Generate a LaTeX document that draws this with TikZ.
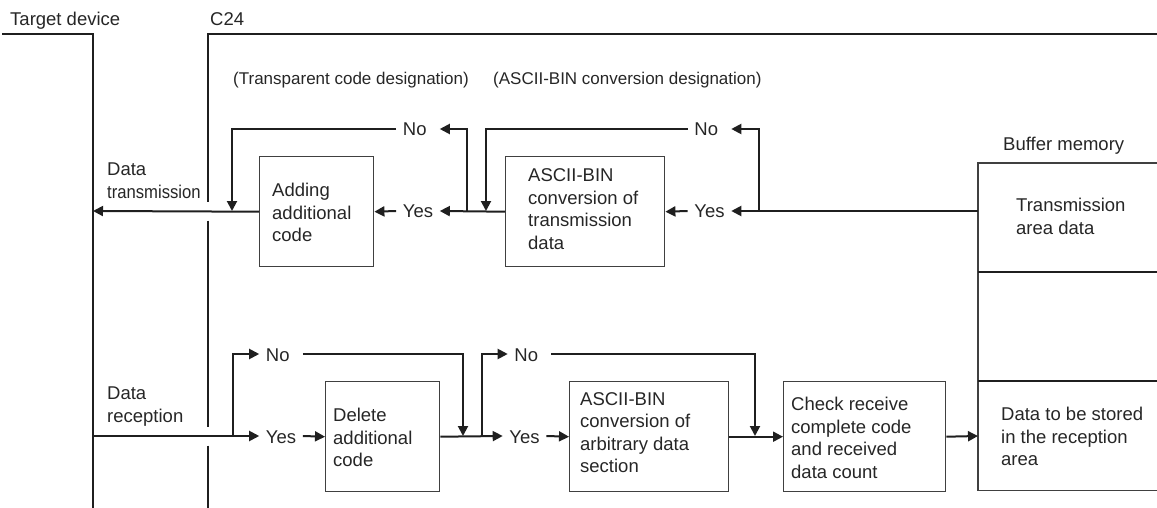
\documentclass[tikz,border=0pt]{standalone}
\usepackage{fontspec}
\setmainfont{Liberation Sans}
\usetikzlibrary{arrows.meta}
\begin{document}
\begin{tikzpicture}[x=1pt,y=-1pt,
  ln/.style={line width=2pt, draw=black!88},
  arr/.style={ln, -{Triangle[length=10pt,width=10pt]}},
  box/.style={draw=black!75, line width=1.4pt, rectangle, inner sep=0pt, anchor=north west},
  txt/.style={anchor=base west, inner sep=0pt, align=left, font=\fontsize{18.5}{22.5}\selectfont, text=black!85},
  small/.style={anchor=base west, inner sep=0pt, font=\fontsize{17}{20}\selectfont, text=black!85},
  lbl/.style={inner xsep=6.5pt, inner ysep=0pt, text height=14pt, text depth=0pt, font=\fontsize{18.5}{22}\selectfont, text=black!85},
]
\useasboundingbox (0,0) rectangle (1157,508);

% headers
\node[txt] (tdev) at (10,26) {Target device};
\node[txt] (c24) at (210,26) {C24};
\draw[ln] (2,34) -- (93,34) -- (93,508);
\draw[ln] (1157,34) -- (208,34) -- (208,201.5);
\draw[ln] (208,220.5) -- (208,427);
\draw[ln] (208,445.5) -- (208,508);

\node[small] (tcd) at (233,85) {(Transparent code designation)};
\node[small] (abd) at (493,85) {(ASCII-BIN conversion designation)};

% multi-line texts: anchor is the baseline of the last line
\node[txt, font=\fontsize{18.5}{23}\selectfont] (dtx) at (107,198) {Data\\\scalebox{0.9}[1]{transmission}};
\node[txt, font=\fontsize{18.5}{23}\selectfont] (drx) at (107,422) {Data\\reception};

% buffer memory
\node[txt] (bm) at (1003,150) {Buffer memory};
\draw[draw=black!75, line width=1.4pt] (1157,163) -- (978,163) -- (978,490.5) -- (1157,490.5);
\draw[ln] (978,272) -- (1157,272);
\draw[ln] (978,380.5) -- (1157,380.5);
\node[txt] (tad) at (1016,234.2) {Transmission\\area data};
\node[txt] (dsr) at (1001,465.7) {Data to be stored\\in the reception\\area};
\coordinate (btx) at (978,211);
\coordinate (brx) at (978,436);

% transmission boxes
\node[box, minimum width=114pt, minimum height=110pt] (add) at (259,156) {};
\node[txt] (addt) at (272,241.7) {Adding\\additional\\code};
\node[box, minimum width=159pt, minimum height=110pt] (asct) at (505,156) {};
\node[txt] (asctt) at (528,249) {ASCII-BIN\\conversion of\\transmission\\data};

% reception boxes
\node[box, minimum width=114pt, minimum height=110pt] (del) at (325,381) {};
\node[txt] (delt) at (333,466.5) {Delete\\additional\\code};
\node[box, minimum width=159pt, minimum height=110pt] (ascr) at (569,381) {};
\node[txt] (ascrt) at (580,472.5) {ASCII-BIN\\conversion of\\arbitrary data\\section};
\node[box, minimum width=162pt, minimum height=110pt] (chk) at (783,381) {};
\node[txt] (chkt) at (791,478) {Check receive\\complete code\\and received\\data count};

% transmission flow
\node[lbl] (y1) at (709.5,211) {Yes};
\node[lbl] (n1) at (709.5,129) {\rlap{No}\phantom{Yes}};
\coordinate (j1) at (759,211);
\coordinate (k1) at (486,211);
\draw[arr] (btx) -- (y1.east);
\draw[arr] (y1.west) -- (asct.east);
\draw[arr] (j1) |- (n1.east);
\draw[arr] (n1.west) -| (k1);

\node[lbl] (y2) at (418,211) {Yes};
\node[lbl] (n2) at (418,129) {\rlap{No}\phantom{Yes}};
\coordinate (j2) at (467,211);
\coordinate (k2) at (232,211);
\coordinate (tdt) at (93,211);
\draw[arr] (asct.west) -- (y2.east);
\draw[arr] (y2.west) -- (add.east);
\draw[arr] (j2) |- (n2.east);
\draw[arr] (n2.west) -| (k2);
\draw[arr] (add.west) -- (tdt);

% reception flow
\coordinate (tdr) at (93,436);
\node[lbl] (y3) at (281,436) {Yes};
\node[lbl] (n3) at (281,354) {\rlap{No}\phantom{Yes}};
\coordinate (j3) at (233,436);
\coordinate (k3) at (463,436);
\draw[arr] (tdr) -- (y3.west);
\draw[arr] (j3) |- (n3.west);
\draw[arr] (y3.east) -- (del.west);
\draw[arr] (n3.east) -| (k3);

\node[lbl] (y4) at (524.5,436) {Yes};
\node[lbl] (n4) at (529.5,354) {\rlap{No}\phantom{Yes}};
\coordinate (j4) at (482,436);
\coordinate (k4) at (755,436);
\draw[arr] (del.east) -- (y4.west);
\draw[arr] (j4) |- (n4.west);
\draw[arr] (y4.east) -- (ascr.west);
\draw[arr] (n4.east) -| (k4);

\draw[arr] (ascr.east) -- (chk.west);
\draw[arr] (chk.east) -- (brx);
\end{tikzpicture}
\end{document}
